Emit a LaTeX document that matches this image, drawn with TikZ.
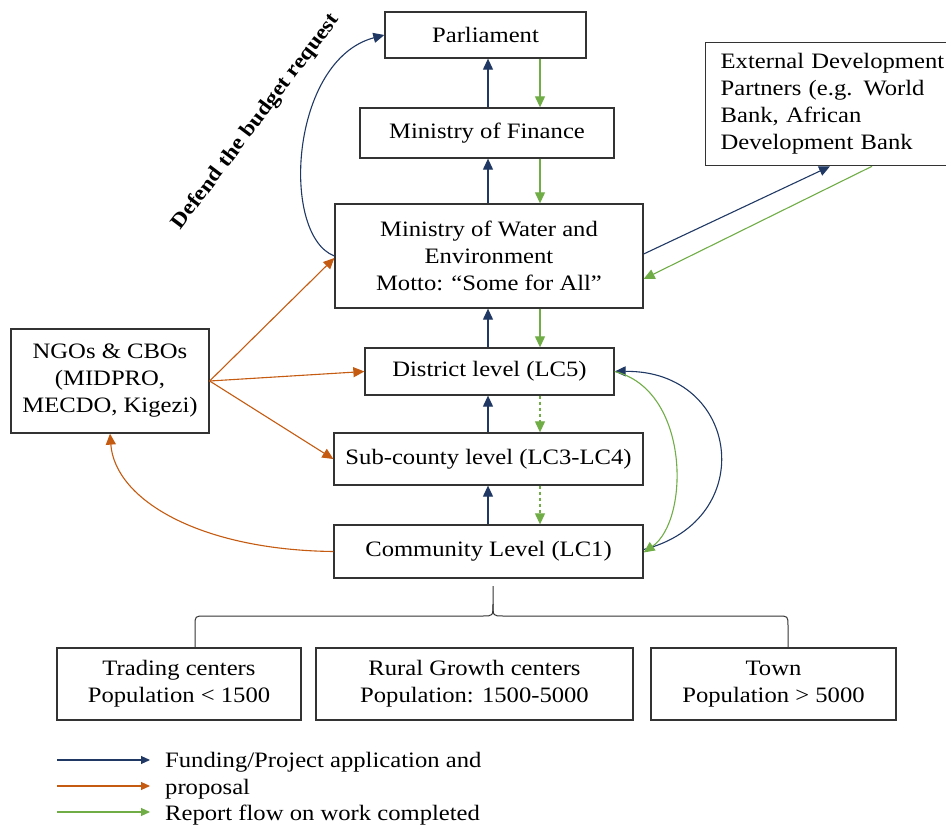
\documentclass[tikz,border=0pt]{standalone}
\usepackage{fontspec}
\setmainfont{Liberation Serif}[FakeStretch=1.12]
\usepackage{tikz}
\usetikzlibrary{arrows.meta}
\definecolor{fundblue}{HTML}{203864}
\definecolor{proporange}{HTML}{C55A11}
\definecolor{repgreen}{HTML}{70AD47}
\tikzstyle{level}=[draw=black!80,line width=1.3pt,inner sep=0pt,align=center,font=\fontsize{22}{27}\selectfont]
\tikzstyle{fund}=[draw=fundblue,line width=1.1pt,-{Triangle[length=11pt,width=10pt]}]
\tikzstyle{prop}=[draw=proporange,line width=1.1pt,-{Triangle[length=11pt,width=10pt]}]
\tikzstyle{report}=[draw=repgreen,line width=1.1pt,-{Triangle[length=11pt,width=10pt]}]

\begin{document}
\begin{tikzpicture}[x=1pt,y=-1pt]
      \useasboundingbox (0,0) rectangle (946,829);

      \node[level,minimum width=201,minimum height=46] (parl) at (485.5,35) {Parliament};
      \node[level,minimum width=254,minimum height=50] (fin) at (487,133) {Ministry of Finance};
      \node[level,minimum width=308,minimum height=104] (mowe) at (489,256)
        {Ministry of Water and\\Environment\\Motto: “Some for All”};
      \node[level,anchor=north west,minimum width=250,minimum height=123,
        text width=226,inner xsep=15pt,align=left] (ext) at (705,42)
        {External Development\\Partners (e.g. World\\Bank, African\\Development Bank};
      \node[level,minimum width=198,minimum height=104] (ngo) at (110,381)
        {NGOs \& CBOs\\(MIDPRO,\\MECDO, Kigezi)};
      \node[level,minimum width=249,minimum height=47] (dist) at (489.5,371.5) {District level (LC5)};
      \node[level,minimum width=309,minimum height=52] (sub) at (488.5,459) {Sub-county level (LC3-LC4)};
      \node[level,minimum width=309,minimum height=53] (comm) at (488.5,551.5) {Community Level (LC1)};

      \node[level,minimum width=244,minimum height=72] (trade) at (179,684)
        {Trading centers\\Population < 1500};
      \node[level,minimum width=317,minimum height=72] (rural) at (474.5,684)
        {Rural Growth centers\\Population: 1500-5000};
      \node[level,minimum width=245,minimum height=72] (town) at (773.5,684)
        {Town\\Population > 5000};

      % up and down the levels
      \coordinate (up) at (488,0);
      \coordinate (down) at (540,0);
      \foreach \lo/\hi/\sty in {fin/parl/solid,mowe/fin/solid,dist/mowe/solid,sub/dist/dashed,comm/sub/dashed}{
        \draw[fund] (\lo.north -| up) -- (\hi.south -| up);
        \draw[report,\sty] (\hi.south -| down) -- (\lo.north -| down);
      }

      \draw[fund] (mowe.west) .. controls (280,235) and (290,60) .. (parl.west);
      \node[font=\bfseries\fontsize{21}{26}\selectfont,rotate=53] (defend) at (256,122)
        {Defend the budget request};

      \draw[fund] ([yshift=2pt]mowe.east) -- ([xshift=125pt]ext.south west);
      \draw[report] ([xshift=167pt]ext.south west) -- ([yshift=-23pt]mowe.east);

      \draw[prop] (ngo.east) -- ([yshift=-2pt]mowe.west);
      \draw[prop] (ngo.east) -- (dist.west);
      \draw[prop] (ngo.east) -- (sub.west);
      \draw[prop] (comm.west) .. controls (200,550) and (115,500) .. (ngo.south);

      \draw[fund] ([yshift=2pt]comm.east) .. controls (760,520) and (740,370) .. (dist.east);
      \draw[report] (dist.east) .. controls (690,390) and (690,520) .. ([yshift=-1pt]comm.east);

      % brace to the settlements
      \coordinate (bl) at (trade.north -| 195,0);
      \coordinate (br) at (town.north -| 788,0);
      \coordinate (bm) at (493,586);
      \draw[black!80,line width=1pt] (bl) -- (195,626) .. controls (195,616) .. (205,616) -- (483,616)
        .. controls (493,616) .. (493,604) -- (bm);
      \draw[black!80,line width=1pt] (br) -- (788,626) .. controls (788,616) .. (778,616) -- (503,616)
        .. controls (493,616) .. (493,604);

      % legend
      \coordinate (k1a) at (57,760);  \coordinate (k1b) at (150,760);
      \coordinate (k2a) at (57,786);  \coordinate (k2b) at (150,786);
      \coordinate (k3a) at (57,812);  \coordinate (k3b) at (150,812);
      \draw[fund,-{Triangle[length=9pt,width=8pt]}] (k1a) -- (k1b);
      \draw[prop,-{Triangle[length=9pt,width=8pt]}] (k2a) -- (k2b);
      \draw[report,-{Triangle[length=9pt,width=8pt]}] (k3a) -- (k3b);
      \node[anchor=west,align=left,inner sep=0pt,font=\fontsize{22}{26.5}\selectfont] (key) at (165,789)
        {Funding/Project application and\\proposal\\Report flow on work completed};
\end{tikzpicture}
\end{document}
